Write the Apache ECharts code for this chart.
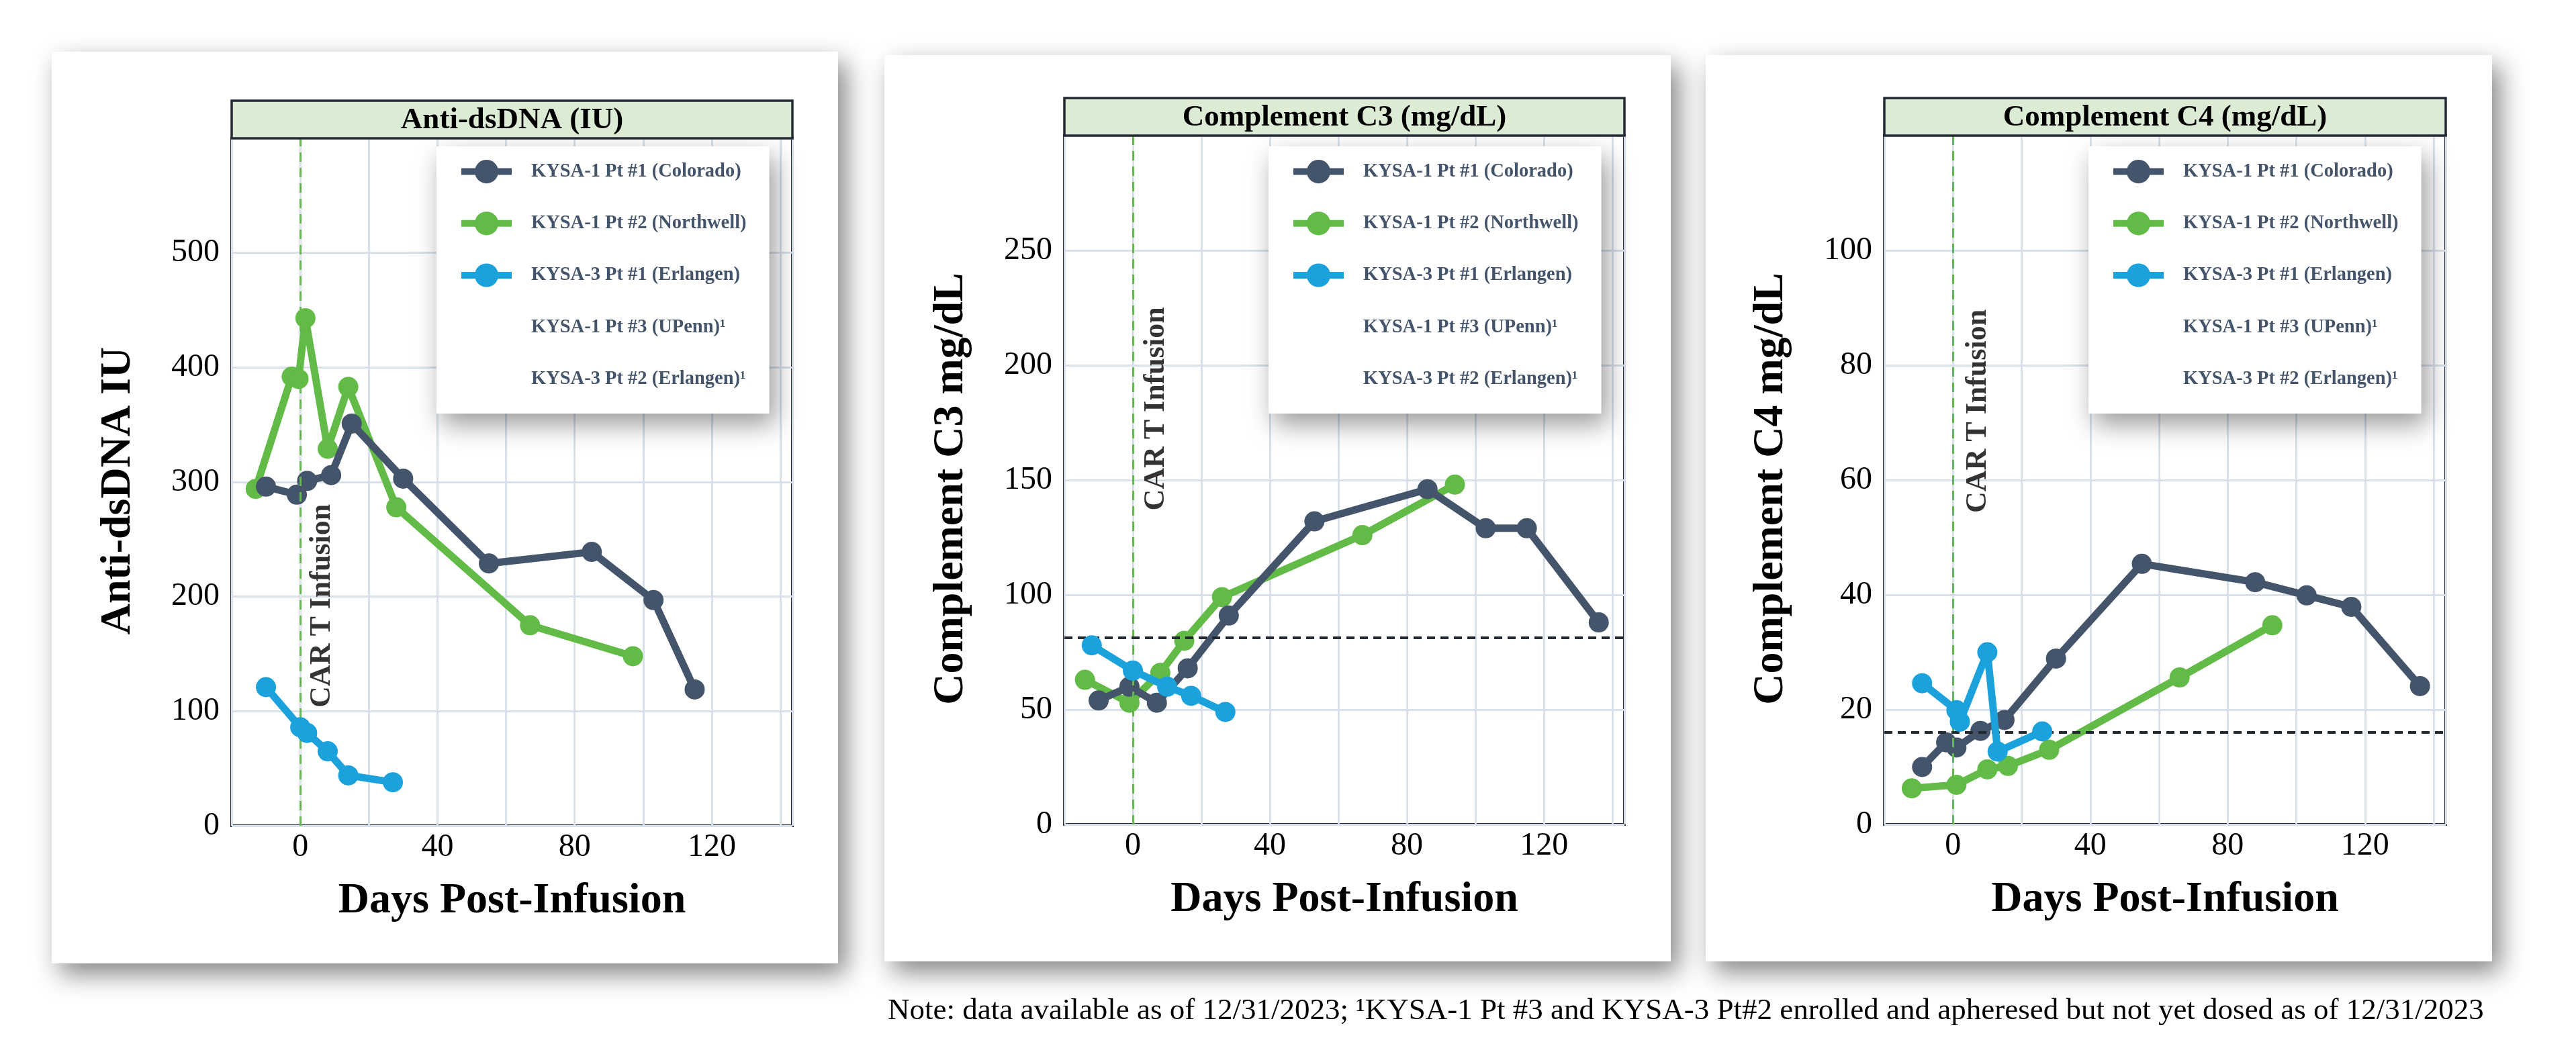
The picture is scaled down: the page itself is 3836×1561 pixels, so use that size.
<!DOCTYPE html>
<html><head><meta charset="utf-8">
<script src="https://cdn.jsdelivr.net/npm/echarts@6/dist/echarts.min.js"></script>
<style>
html,body{margin:0;padding:0;background:#fff;}
#wrap{position:relative;width:3836px;height:1561px;overflow:hidden;background:#fff;}
.card{position:absolute;background:#fff;box-shadow:12px 16px 36px rgba(0,0,0,0.48);}
#chart{position:absolute;left:0;top:0;width:3836px;height:1561px;}
</style></head><body>
<div id="wrap">
<div class="card" style="left:77px;top:77px;width:1171px;height:1358px"></div>
<div class="card" style="left:1317px;top:82px;width:1171px;height:1350px"></div>
<div class="card" style="left:2540px;top:82px;width:1171px;height:1350px"></div>
<div id="chart"></div>
</div>
<script>
// ---------- DATA ----------
const seriesNames = ['KYSA-1 Pt #1 (Colorado)', 'KYSA-1 Pt #2 (Northwell)', 'KYSA-3 Pt #1 (Erlangen)', 'KYSA-1 Pt #3 (UPenn)\u00b9', 'KYSA-3 Pt #2 (Erlangen)\u00b9'];
const panelTitles = ['Anti-dsDNA (IU)', 'Complement C3 (mg/dL)', 'Complement C4 (mg/dL)'];
const yAxisTitles = ['Anti-dsDNA IU', 'Complement C3 mg/dL', 'Complement C4 mg/dL'];
const xAxisTitle = 'Days Post-Infusion';
const xTickLabels = [0, 40, 80, 120];

// Anti-dsDNA
const dsdnaColoradoDays = [-10, -1, 2, 9, 15, 30, 55, 85, 103, 115];
const dsdnaColoradoValues = [296, 289, 301, 306, 351, 303, 229, 239, 197, 119];
const dsdnaNorthwellDays = [-13, -2.5, -0.5, 1.5, 8, 14, 28, 67, 97];
const dsdnaNorthwellValues = [294, 392, 390, 443, 329, 383, 278, 175, 148];
const dsdnaErlangenDays = [-10, 0, 2, 8, 14, 27];
const dsdnaErlangenValues = [121, 86, 81, 65, 44, 38];

// Complement C3
const c3ColoradoDays = [-10, -1, 7, 16, 28, 53, 86, 103, 115, 136];
const c3ColoradoValues = [54, 60, 53, 68, 91, 132, 146, 129, 129, 88];
const c3NorthwellDays = [-14, -1, 8, 15, 26, 67, 94];
const c3NorthwellValues = [63, 53, 66, 80, 99, 126, 148];
const c3ErlangenDays = [-12, 0, 10, 17, 27];
const c3ErlangenValues = [78, 67, 60, 56, 49];
const c3LowerLimit = 81.5;

// Complement C4
const c4ColoradoDays = [-9, -2, 1, 8, 15, 30, 55, 88, 103, 116, 136];
const c4ColoradoValues = [10, 14.3, 13.4, 16.3, 18.2, 28.9, 45.4, 42.2, 39.9, 37.9, 24.1];
const c4NorthwellDays = [-12, 1, 10, 16, 28, 66, 93];
const c4NorthwellValues = [6.3, 6.9, 9.6, 10.2, 13, 25.6, 34.7];
const c4ErlangenDays = [-9, 1, 2, 10, 13, 26];
const c4ErlangenValues = [24.6, 19.9, 17.9, 30, 12.7, 16.2];
const c4LowerLimit = 16;

const yMaxes = [600, 300, 120];
const yIntervals = [100, 50, 20];
const infusionDay = 0;
const infusionLabelAt = [[6.3, 192], [6.8, 181], [7.3, 72]];
const noteText = 'Note: data available as of 12/31/2023; \u00b9KYSA-1 Pt #3 and KYSA-3 Pt#2 enrolled and apheresed but not yet dosed as of 12/31/2023';

// ---------- LAYOUT / STYLE ----------
const FONT = '"Liberation Serif", "Times New Roman", serif';
const COLORS = ['#44546a', '#62bb46', '#1ba1dc', 'rgba(0,0,0,0)', 'rgba(0,0,0,0)'];
const Z = [4, 3, 5, 2, 2];
const FRAME = '#232a33';
const grids = [
  {left: 345, top: 206, width: 835, height: 1024},
  {left: 1585, top: 202, width: 834, height: 1026},
  {left: 2806, top: 202, width: 836, height: 1026}
];
const legendPos = [{left: 650, top: 218}, {left: 1889, top: 218}, {left: 3110, top: 218}];

function pairs(xs, ys) { return xs.map((x, i) => [x, ys[i]]); }
const panelData = [
  [pairs(dsdnaColoradoDays, dsdnaColoradoValues), pairs(dsdnaNorthwellDays, dsdnaNorthwellValues), pairs(dsdnaErlangenDays, dsdnaErlangenValues), [], []],
  [pairs(c3ColoradoDays, c3ColoradoValues), pairs(c3NorthwellDays, c3NorthwellValues), pairs(c3ErlangenDays, c3ErlangenValues), [], []],
  [pairs(c4ColoradoDays, c4ColoradoValues), pairs(c4NorthwellDays, c4NorthwellValues), pairs(c4ErlangenDays, c4ErlangenValues), [], []]
];
const lowerLimits = [null, c3LowerLimit, c4LowerLimit];

const option = {
  animation: false,
  backgroundColor: 'transparent',
  grid: [], xAxis: [], yAxis: [], series: [], legend: [], graphic: []
};

grids.forEach((g, i) => {
  option.grid.push({left: g.left, top: g.top, width: g.width, height: g.height, show: true,
    borderColor: FRAME, borderWidth: 4, backgroundColor: 'transparent', containLabel: false});
  option.xAxis.push({
    type: 'value', gridIndex: i, min: -20, max: 143.5, interval: 20,
    axisLine: {show: false}, axisTick: {show: false},
    splitLine: {show: true, lineStyle: {color: '#d8e0ea', width: 3}},
    axisLabel: {fontFamily: FONT, fontSize: 48, color: '#000', margin: 8,
      formatter: v => (xTickLabels.indexOf(v) >= 0 ? String(v) : '')},
    name: xAxisTitle, nameLocation: 'middle', nameGap: 80,
    nameTextStyle: {fontFamily: FONT, fontSize: 64, fontWeight: 'bold', color: '#000'}
  });
  option.yAxis.push({
    type: 'value', gridIndex: i, min: 0, max: yMaxes[i], interval: yIntervals[i],
    axisLine: {show: false}, axisTick: {show: false},
    splitLine: {show: true, lineStyle: {color: '#d8e0ea', width: 3}},
    axisLabel: {fontFamily: FONT, fontSize: 48, color: '#000', margin: 18,
      formatter: v => (v >= yMaxes[i] ? '' : String(v))},
    name: yAxisTitles[i], nameLocation: 'middle', nameRotate: 90, nameGap: 137,
    nameTextStyle: {fontFamily: FONT, fontSize: 64, fontWeight: 'bold', color: '#000', padding: [0, 26, 0, 0]}
  });
  // infusion vertical line (under data)
  option.series.push({
    type: 'line', name: 'infusion' + i, xAxisIndex: i, yAxisIndex: i, data: [], z: 1,
    markLine: {silent: true, symbol: 'none', label: {show: false},
      lineStyle: {color: '#62bb46', width: 3, type: [14, 9]}, data: [{xAxis: infusionDay}]}
  });
  seriesNames.forEach((name, k) => {
    option.series.push({
      type: 'line', name: name, xAxisIndex: i, yAxisIndex: i,
      data: panelData[i][k], z: Z[k],
      symbol: 'circle', symbolSize: 30, showSymbol: true,
      color: COLORS[k],
      lineStyle: {width: 11, color: COLORS[k]},
      itemStyle: {color: COLORS[k]},
      emphasis: {disabled: true}
    });
  });
  if (lowerLimits[i] !== null) {
    option.series.push({
      type: 'line', name: 'limit' + i, xAxisIndex: i, yAxisIndex: i, data: [], z: 8,
      markLine: {silent: true, symbol: 'none', label: {show: false},
        lineStyle: {color: FRAME, width: 4, type: [12, 8]}, data: [{yAxis: lowerLimits[i]}]}
    });
  }
  option.series.push({
    type: 'scatter', name: 'cart' + i, xAxisIndex: i, yAxisIndex: i, z: 9,
    data: [infusionLabelAt[i]], symbolSize: 1, itemStyle: {color: 'rgba(0,0,0,0)'},
    label: {show: true, position: 'inside', rotate: 90, formatter: 'CAR T Infusion',
      fontFamily: FONT, fontSize: 44, fontWeight: 'bold', color: '#000'},
    silent: true
  });
  option.legend.push({
    orient: 'vertical', left: legendPos[i].left, top: legendPos[i].top,
    data: seriesNames, selectedMode: false,
    itemWidth: 75, itemHeight: 44, itemGap: 42,
    padding: [20, 34, 34, 32],
    lineStyle: {width: 10},
    backgroundColor: '#fff', shadowBlur: 36, shadowColor: 'rgba(0,0,0,0.4)', shadowOffsetX: 8, shadowOffsetY: 16,
    textStyle: {fontFamily: FONT, fontSize: 28.5, fontWeight: 'bold', color: '#44546a', padding: [0, 0, 0, 24]}
  });
  // title strip
  option.graphic.push({
    type: 'rect', z: 10,
    shape: {x: g.left, y: g.top - 56, width: g.width, height: 56},
    style: {fill: '#dcebd4', stroke: FRAME, lineWidth: 3.5}
  });
  option.graphic.push({
    type: 'text', z: 11,
    style: {text: panelTitles[i], x: g.left + g.width / 2, y: g.top - 27,
      textAlign: 'center', textVerticalAlign: 'middle', align: 'center', verticalAlign: 'middle',
      font: 'bold 45px ' + FONT, fill: '#000'}
  });
});
option.graphic.push({
  type: 'text', z: 11,
  style: {text: noteText, x: 1322, y: 1506, textAlign: 'left', textVerticalAlign: 'middle', align: 'left', verticalAlign: 'middle',
    font: '45px ' + FONT, fill: '#000'}
});

const chart = echarts.init(document.getElementById('chart'), null, {renderer: 'canvas'});
chart.setOption(option);
</script>
</body></html>
